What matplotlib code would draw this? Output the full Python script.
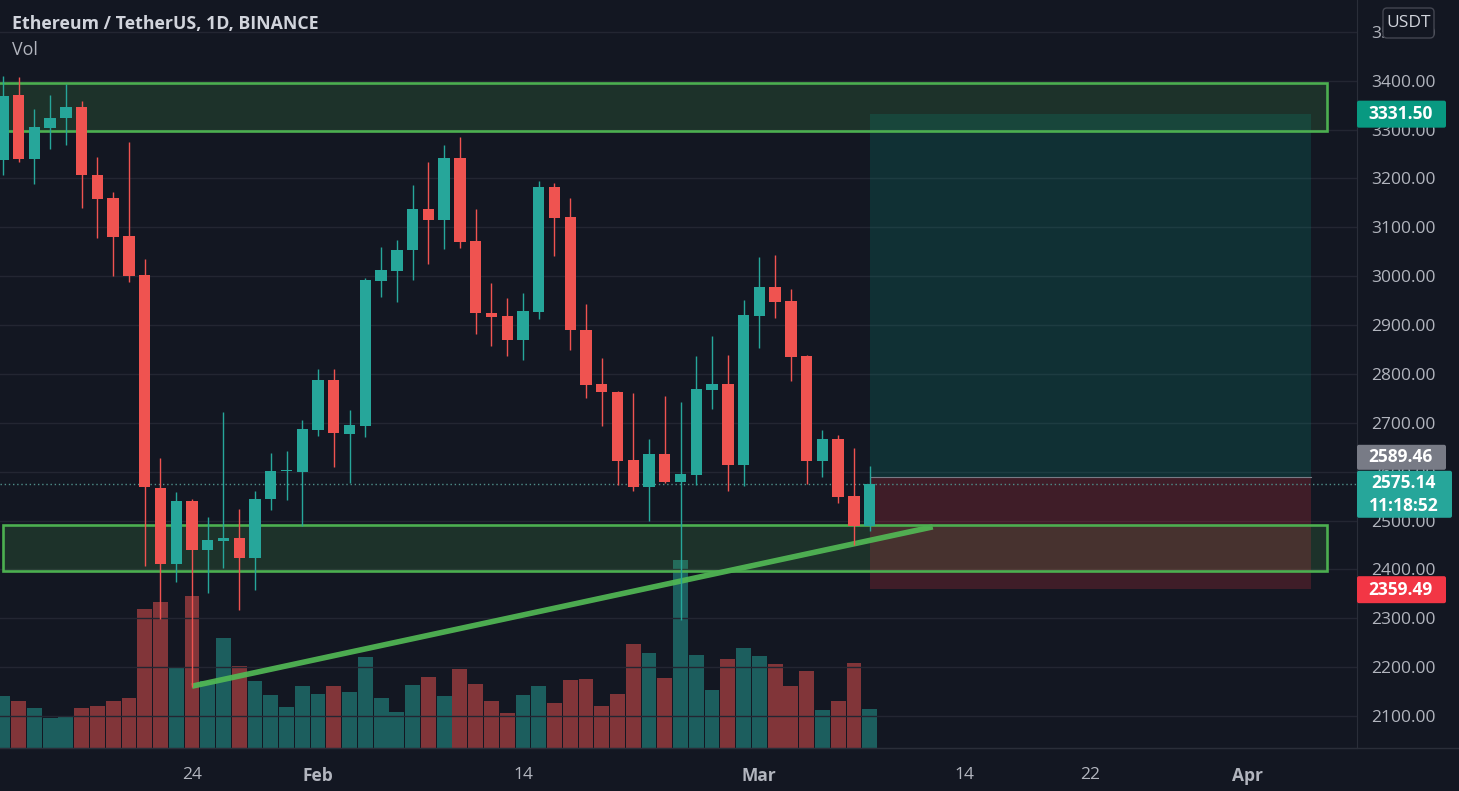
import matplotlib
matplotlib.use("Agg")
import matplotlib.pyplot as plt
import matplotlib.dates as mdates
import matplotlib.transforms as mtransforms
from matplotlib.patches import FancyBboxPatch, Rectangle
import numpy as np
import pandas as pd

plt.rcParams["font.family"] = ["Open Sans", "DejaVu Sans"]

# --- colors ----------------------------------------------------------------
BG = "#131722"
GRID = "#232632"
AXLINE = "#2a2e39"
TEXT = "#d1d4dc"
MUTED = "#b2b5be"
UP = "#26a69a"
DOWN = "#ef5350"
ZONE = "#4caf50"

# --- data (ETH/USDT daily) -------------------------------------------------
dates = pd.date_range("2022-01-12", "2022-03-08", freq="D")
opens = [3237, 3371, 3239, 3303, 3324, 3347, 3208, 3159, 3083, 3002,
         2567, 2411, 2540, 2439, 2458, 2464, 2423, 2544, 2601, 2600,
         2685, 2787, 2677, 2693, 2991, 3010, 3054, 3137, 3115, 3241,
         3071, 2925, 2918, 2869, 2927, 3183, 3122, 2890, 2780, 2763,
         2623, 2568, 2637, 2578, 2594, 2767, 2780, 2614, 2919, 2977,
         2949, 2836, 2621, 2666, 2551, 2489]
highs = [3409, 3407, 3342, 3371, 3393, 3358, 3243, 3173, 3274, 3035,
         2627, 2558, 2545, 2507, 2723, 2523, 2560, 2639, 2642, 2705,
         2811, 2810, 2726, 2996, 3059, 3073, 3186, 3233, 3268, 3284,
         3137, 2986, 2955, 2966, 3195, 3190, 3159, 2944, 2833, 2765,
         2760, 2666, 2754, 2742, 2836, 2878, 2838, 2952, 3040, 3044,
         2973, 2838, 2686, 2676, 2648, 2611]
lows = [3206, 3234, 3188, 3260, 3269, 3140, 3079, 3000, 2988, 2406,
        2298, 2374, 2160, 2351, 2403, 2317, 2358, 2521, 2542, 2488,
        2673, 2610, 2576, 2671, 2957, 2947, 2993, 3025, 3056, 3058,
        2881, 2858, 2836, 2828, 2913, 3042, 2848, 2750, 2694, 2573,
        2560, 2500, 2577, 2296, 2573, 2728, 2560, 2570, 2853, 2915,
        2786, 2575, 2590, 2536, 2450, 2478]
closes = [3368, 3239, 3305, 3324, 3347, 3206, 3157, 3081, 3000, 2568,
          2411, 2540, 2439, 2460, 2464, 2423, 2544, 2602, 2603, 2687,
          2787, 2680, 2695, 2993, 3012, 3054, 3137, 3115, 3241, 3069,
          2924, 2916, 2869, 2928, 3183, 3120, 2889, 2777, 2762, 2621,
          2568, 2637, 2578, 2595, 2770, 2780, 2614, 2921, 2977, 2947,
          2834, 2621, 2666, 2549, 2489, 2575.14]
# volume, thousand ETH
volumes = [392, 353, 300, 225, 233, 300, 317, 353, 377, 1043,
           1095, 600, 1140, 503, 825, 615, 503, 398, 308, 465,
           405, 465, 420, 683, 375, 270, 473, 533, 390, 593,
           480, 353, 263, 398, 465, 338, 510, 518, 315, 405,
           780, 713, 525, 1410, 698, 435, 668, 750, 690, 630,
           465, 578, 285, 353, 638, 293]

price_ticks = [2100, 2200, 2300, 2400, 2500, 2600, 2700, 2800, 2900,
               3000, 3100, 3200, 3300, 3400, 3500]
date_ticks = ["2022-01-24", "2022-02-01", "2022-02-14", "2022-03-01",
              "2022-03-14", "2022-03-22", "2022-04-01"]
date_tick_labels = ["24", "Feb", "14", "Mar", "14", "22", "Apr"]
month_labels = {"Feb", "Mar", "Apr"}

# drawn zones / trend line / long position
upper_zone = ("2022-01-10", "2022-04-06", 3297, 3395)
lower_zone = ("2022-01-12", "2022-04-06", 2397, 2491)
trend_dates = ["2022-01-24", "2022-03-12"]
trend_prices = [2161, 2487]
position_dates = ("2022-03-08", "2022-04-05")
target_price = 3331.50
entry_price = 2589.46
stop_price = 2359.49
last_price = closes[-1]
countdown = "11:18:52"

# --- figure ----------------------------------------------------------------
W, H = 1459, 791
fig = plt.figure(figsize=(W / 100, H / 100), dpi=100, facecolor=BG)
ax_left, ax_bottom, ax_w, ax_h = 0, 43, 1357, 748
ax_vol = fig.add_axes([ax_left / W, ax_bottom / H, ax_w / W, ax_h / H])
ax = ax_vol.twinx()
ax.set_zorder(ax_vol.get_zorder() + 1)
ax.patch.set_visible(False)
ax_vol.set_facecolor(BG)

x = mdates.date2num(dates)
o, h, l, c = map(np.asarray, (opens, highs, lows, closes))
up = c >= o

# volume (behind)
vol_colors = np.where(up, UP, DOWN)
ax_vol.bar(x, volumes, width=0.94, color=vol_colors, alpha=0.5, linewidth=0)
ax_vol.set_ylim(0, 5610)
ax_vol.set_yticks([])
for s in ax_vol.spines.values():
    s.set_visible(False)

# grid
ax.set_yticks(price_ticks)
ax.set_xticks(mdates.date2num(pd.to_datetime(date_ticks)))
ax.grid(True, color=GRID, linewidth=1, zorder=0)
ax.set_axisbelow(True)

# zones
for d0, d1, lo, hi in (upper_zone, lower_zone):
    x0, x1 = mdates.date2num(pd.to_datetime([d0, d1]))
    ax.add_patch(Rectangle((x0, lo), x1 - x0, hi - lo, facecolor=ZONE,
                           alpha=0.18, edgecolor="none", zorder=1))
    ax.add_patch(Rectangle((x0, lo), x1 - x0, hi - lo, facecolor="none",
                           edgecolor=ZONE, linewidth=1.9, zorder=4))

# long position box
px0, px1 = mdates.date2num(pd.to_datetime(list(position_dates)))
ax.add_patch(Rectangle((px0, entry_price), px1 - px0, target_price - entry_price,
                       facecolor="#089981", alpha=0.2, edgecolor="none", zorder=1))
ax.add_patch(Rectangle((px0, stop_price), px1 - px0, entry_price - stop_price,
                       facecolor="#f23645", alpha=0.2, edgecolor="none", zorder=1))
ax.plot([px0, px1], [entry_price, entry_price], color="#787b86", lw=0.8, zorder=2)

# trend line
ax.plot(mdates.date2num(pd.to_datetime(trend_dates)), trend_prices, color="#52b955",
        lw=4, alpha=0.92, solid_capstyle="butt", zorder=3)

# last price dotted line
ax.axhline(last_price, color="#4f8f8a", lw=1, ls=(0, (1, 2)), zorder=2)

# candles
colors = np.where(up, UP, DOWN)
ax.vlines(x, l, h, colors=colors, linewidth=1, zorder=5)
body_lo = np.minimum(o, c)
body_h = np.maximum(np.abs(c - o), 2)
ax.bar(x, body_h, bottom=body_lo, width=0.72, color=colors, linewidth=0, zorder=6)

# limits
anchor = pd.Timestamp("2022-01-24")
ax.set_xlim(mdates.date2num(anchor - pd.Timedelta(days=12.18)),
            mdates.date2num(anchor + pd.Timedelta(days=73.92)))
ax.set_ylim(2034.5, 3565.1)

# axes styling
for name, s in ax.spines.items():
    s.set_visible(name in ("right", "bottom"))
    s.set_color(AXLINE)
ax.yaxis.tick_right()
ax.tick_params(axis="y", length=0, pad=10.5, colors=MUTED, labelsize=12.5)
ax.yaxis.set_major_formatter(plt.FuncFormatter(lambda v, _: f"{v:.2f}"))
# date labels: drawn by the volume axes, which owns the visible x axis
ax.tick_params(axis="x", length=0, labelbottom=False)
ax_vol.tick_params(axis="x", length=0, pad=14, colors=MUTED, labelsize=12.5)
ax_vol.set_xticks(mdates.date2num(pd.to_datetime(date_ticks)))
ax_vol.set_xticklabels(date_tick_labels)
for lab in ax_vol.get_xticklabels():
    if lab.get_text() in month_labels:
        lab.set_fontweight("bold")

fig.add_artist(plt.Line2D([0, 1], [ax_bottom / H, ax_bottom / H],
                          transform=fig.transFigure, color=AXLINE, lw=1))


# price tags on the right axis
def price_tag(price, lines, color, y0, height, width=89):
    anchor_t = mtransforms.ScaledTranslation(1.0, price, ax.get_yaxis_transform())
    trans = mtransforms.Affine2D() + anchor_t
    ax.add_artist(FancyBboxPatch((0, y0), width, height,
                                 boxstyle="round,pad=0,rounding_size=2",
                                 transform=trans, facecolor=color,
                                 edgecolor="none", clip_on=False, zorder=10))
    n = len(lines)
    for i, s in enumerate(lines):
        ty = y0 + height - (i + 0.5) * height / n
        ax.text(width / 2 - 1, ty, s, transform=trans, ha="center", va="center",
                color="white", fontsize=12.5, fontweight="bold",
                clip_on=False, zorder=11)


price_tag(target_price, [f"{target_price:.2f}"], "#089981", -13.5, 27)
price_tag(entry_price, [f"{entry_price:.2f}"], "#787b86", 7, 25)
price_tag(last_price, [f"{last_price:.2f}", countdown], UP, -34, 47, width=95)
price_tag(stop_price, [f"{stop_price:.2f}"], "#f23645", -14, 27)

# currency button (covers the top tick label, as in the app)
fig.add_artist(FancyBboxPatch((13.83, (H - 38) / 100), 0.51, 0.30,
                              boxstyle="round,pad=0,rounding_size=0.04",
                              transform=fig.dpi_scale_trans, facecolor=BG,
                              edgecolor="#434651", lw=1, zorder=20))
fig.text(14.085 / 14.59, 1 - 23 / H, "USDT", ha="center", va="center",
         color=TEXT, fontsize=12.5, zorder=21)

# legend text
fig.text(12 / W, 1 - 24 / H, "Ethereum / TetherUS, 1D, BINANCE", ha="left",
         va="center", color=TEXT, fontsize=12.8, fontweight="bold")
fig.text(12 / W, 1 - 50 / H, "Vol", ha="left", va="center", color=MUTED,
         fontsize=12.8)

fig.savefig("out.png", dpi=100, facecolor=BG)
